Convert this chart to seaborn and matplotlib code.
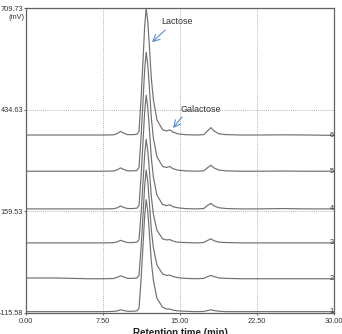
import numpy as np
import pandas as pd
import matplotlib
matplotlib.use("Agg")
import matplotlib.pyplot as plt
import seaborn as sns

# Retention time grid (min)
time_min = [0, 3, 6, 7.5, 8.5, 8.9, 9.2, 9.5, 9.9, 10.4, 10.8, 11.0, 11.2, 11.4,
            11.55, 11.7, 11.85, 12.0, 12.2, 12.4, 12.75, 13.3, 13.7, 14.0, 14.3,
            14.8, 15.5, 16.5, 17.3, 17.7, 18.0, 18.3, 18.8, 19.5, 21, 22.5, 25,
            27.5, 30]

# Signal above each run's baseline (mV)
run1 = [0, 0, 0, 0, 0.5, 2, 5, 3, 1, 1, 2, 9, 85, 182, 258, 303, 273, 218, 136,
        85, 36, 12, 7, 7, 4, 2, 1, 0, 0.5, 3, 5, 3, 1, 0, 0, 0, 0, 0, 0]
run2 = [0, 0, -2, -2, -1.5, 2, 6, 3, -1, -1, 0, 7, 80, 175, 248, 292, 263, 210,
        131, 82, 35, 11, 7, 8, 4, 1, -1, -2, -1, 4, 7, 4, 0, -1, -2, -2, -2, -2, -2]
run3 = [0, 0, 0, 0, 0.5, 3, 7, 4, 1, 1, 2, 8, 78, 168, 238, 280, 252, 202, 126,
        78, 34, 11, 8, 9, 5, 2, 1, 0, 1, 7, 11, 6, 2, 1, 0, 0, 0, 0, 0]
run4 = [0, 0, 0, 0, 0.5, 3, 8, 4, 1, 1, 2, 9, 86, 185, 262, 308, 277, 222, 139,
        86, 37, 12, 9, 11, 6, 3, 1, 0, 1, 10, 15, 8, 3, 1, 0, 0, 1, 0, 0]
run5 = [0, 0, 0, 0, 0.5, 4, 9, 5, 1, 1, 2, 10, 90, 193, 274, 322, 290, 232, 145,
        90, 39, 13, 10, 13, 7, 3, 1, 0, 1, 10, 16, 9, 3, 1, 0, 0, 0.5, 0, 0]
run6 = [0, 0, 0, 0, 0.5, 4, 10, 5, 1, 1, 2, 10, 96, 206, 292, 343, 309, 247, 154,
        96, 41, 14, 11, 14, 8, 3, 1, 0, 1, 12, 20, 11, 3, 1, 0, 0, 0.5, 0, -1]

runs = [run1, run2, run3, run4, run5, run6]
run_labels = ["1", "2", "3", "4", "5", "6"]
baselines = [-112, -21, 74, 166, 268, 366]   # stacking offset of each run (mV)

y_ticks = [-115.58, 159.53, 434.63, 709.73]
x_ticks = [0.0, 7.5, 15.0, 22.5, 30.0]

rows = []
for lab, vals, base in zip(run_labels, runs, baselines):
    for t, v in zip(time_min, vals):
        rows.append({"time": t, "signal": v + base, "run": lab})
df = pd.DataFrame(rows)

sns.set_theme(style="white")
plt.rcParams['font.family'] = ['Liberation Sans', 'DejaVu Sans']

fig = plt.figure(figsize=(3.42, 3.34), dpi=100)
ax = fig.add_axes([0.076, 0.063, 0.901, 0.913])

line_col = "#707070"
sns.lineplot(data=df, x="time", y="signal", units="run", estimator=None,
             color=line_col, linewidth=0.85, ax=ax, legend=False)

ax.set_xlim(0, 30)
ax.set_ylim(y_ticks[0], y_ticks[-1])
ax.set_xticks(x_ticks)
ax.set_xticklabels([f"{v:.2f}" for v in x_ticks])
ax.set_yticks(y_ticks)
ax.set_yticklabels([f"{v:.2f}" for v in y_ticks])

for x in x_ticks[1:-1]:
    ax.axvline(x, color="#9a9a9a", linestyle=(0, (1, 1.5)), linewidth=0.6, zorder=0)
for y in y_ticks[1:-1]:
    ax.axhline(y, color="#9a9a9a", linestyle=(0, (1, 1.5)), linewidth=0.6, zorder=0)

for sp in ax.spines.values():
    sp.set_color("#606060")
    sp.set_linewidth(0.9)

ax.tick_params(axis="both", which="major", length=1.5, width=0.7, color="#606060",
               labelsize=5.3, labelcolor="#333333", pad=0.6, direction="out",
               left=True, bottom=True)
ax.tick_params(axis="x", pad=2)

ax.set_ylabel("")
ax.set_xlabel("Retention time (min)", fontsize=7, fontweight="bold",
              color="#222222", labelpad=2)

ax.text(-0.058, 0.968, "(mV)", transform=ax.transAxes, fontsize=5.3,
        color="#333333", ha="left", va="center")

for lab, base in zip(run_labels, baselines):
    ax.text(29.75, base, lab, fontsize=5.3, color="#333333", ha="center",
            va="center")

arrow_col = "#5b8bd0"
ax.text(14.7, 672, "Lactose", fontsize=6.5, color="#333333", ha="center",
        va="center")
ax.annotate("", xy=(12.27, 617), xytext=(13.55, 650),
            arrowprops=dict(arrowstyle="->", color=arrow_col, lw=0.8,
                            shrinkA=0, shrinkB=0))
ax.text(17.04, 436, "Galactose", fontsize=6.5, color="#333333", ha="center",
        va="center")
ax.annotate("", xy=(14.31, 385), xytext=(15.2, 415),
            arrowprops=dict(arrowstyle="->", color=arrow_col, lw=0.8,
                            shrinkA=0, shrinkB=0))

fig.savefig("out.png", dpi=100)
